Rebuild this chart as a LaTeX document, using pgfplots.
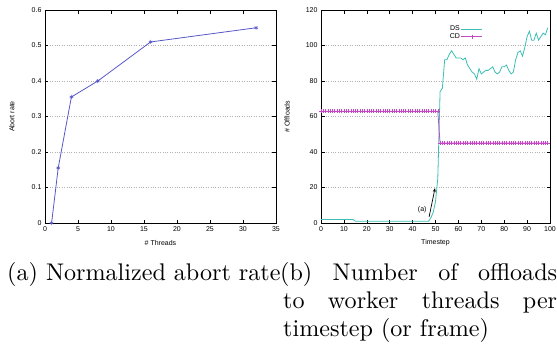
\documentclass[border=0pt]{standalone}
\usepackage{fontspec}
\setsansfont{Liberation Sans}
\newfontfamily\lmten{lmroman10-regular.otf}
\usepackage{pgfplots}
\pgfplotsset{compat=1.18}
\usetikzlibrary{arrows.meta}
\definecolor{abortblue}{RGB}{88,88,200}
\definecolor{dsteal}{RGB}{60,190,180}
\definecolor{cdmag}{RGB}{196,72,196}
\pgfplotsset{
  myaxis/.style={
    scale only axis,
    axis line style={line width=0.8pt},
    tick align=inside,
    major tick length=3.5pt,
    tick style={black, line width=0.6pt},
    ymajorgrids,
    grid style={dotted, gray!60, line width=0.5pt},
    ticklabel style={font=\sffamily\fontsize{7}{8}\selectfont},
    label style={font=\sffamily\fontsize{7}{8}\selectfont},
    /pgf/number format/assume math mode=true,
    /pgf/number format/fixed,
    xlabel style={at={(axis description cs:0.5,-0.094)}, anchor=center},
  }
}
\newcommand\capfont{\lmten\fontsize{24.1}{28}\selectfont}
\begin{document}
\begin{tikzpicture}
\path[use as bounding box] (0pt,0pt) rectangle (557pt,346pt);
% Left axis
\begin{axis}[myaxis,
  at={(45pt,123pt)}, anchor=south west,
  width=231pt, height=213pt,
  xmin=0, xmax=35, ymin=0, ymax=0.6,
  xtick={0,5,...,35}, ytick={0,0.1,0.2,0.3,0.4,0.5,0.6},
  yticklabels={0,0.1,0.2,0.3,0.4,0.5,0.6},
  xlabel={\# Threads}, ylabel={Abort rate},
  ylabel style={at={(axis description cs:-0.143,0.5)}, anchor=center},
]
\addplot[abortblue, line width=0.8pt, mark=asterisk, mark size=2pt, mark options={line width=0.6pt}]
  coordinates {(1,0) (2,0.155) (4,0.355) (8,0.4) (16,0.51) (32,0.55)};
\end{axis}
% Right axis
\begin{axis}[myaxis,
  at={(321pt,123pt)}, anchor=south west,
  width=229pt, height=213pt,
  xmin=0, xmax=100, ymin=0, ymax=120,
  xtick={0,10,...,100}, ytick={0,20,...,120},
  xlabel={Timestep}, ylabel={\# Offloads},
  ylabel style={at={(axis description cs:-0.148,0.5)}, anchor=center},
  legend plot pos=right,
  legend cell align=right,
  legend style={draw=none, fill=none, at={(axis description cs:0.707,0.93)}, anchor=north east,
    font=\sffamily\fontsize{7}{8}\selectfont, inner sep=0pt, row sep=-1pt,
    nodes={inner sep=1pt}},
  legend image code/.code={\draw[#1, mark=none] (0pt,0pt) -- (21pt,0pt);
     \draw[#1, only marks] plot coordinates {(10.5pt,0pt)};},
]
\addplot[dsteal, line width=0.8pt] coordinates {
(0,2)(1,2)(2,2)(3,2)(4,2)(5,2)(6,2)(7,2)(8,2)(9,2)(10,2)(11,2)(12,2)(13,2)(14,2)
(15,1)(16,1)(17,1)(18,1)(19,1)(20,1)(21,1)(22,1)(23,1)(24,1)(25,1)(26,1)(27,1)(28,1)(29,1)
(30,1)(31,1)(32,1)(33,1)(34,1)(35,1)(36,1)(37,1)(38,1)(39,1)(40,1)(41,1)(42,1)(43,1)(44,1)
(45,1)(46,1)(47,1)(48,3)(49,6)(50,12)(51,25)(52,74)(53,76)(54,92)(55,92)(56,95)(57,97)
(58,95)(59,93)(60,93)(61,93)(62,92)(63,93)(64,89)(65,87)(66,85)(67,84)(68,81)(69,87)
(70,84)(71,85)(72,86)(73,86)(74,87)(75,88)(76,85)(77,84)(78,85)(79,88)(80,88)(81,89)
(82,86)(83,84)(84,85)(85,92)(86,96)(87,97)(88,94)(89,99)(90,105)(91,108)(92,103)(93,103)
(94,107)(95,103)(96,105)(97,107)(98,106)(99,110)};
\addlegendentry{DS}
\addplot[cdmag, line width=0.8pt, mark=+, mark size=2pt, mark options={line width=0.5pt}] coordinates {
(0,63)(1,63)(2,63)(3,63)(4,63)(5,63)(6,63)(7,63)(8,63)(9,63)(10,63)(11,63)(12,63)(13,63)
(14,63)(15,63)(16,63)(17,63)(18,63)(19,63)(20,63)(21,63)(22,63)(23,63)(24,63)(25,63)
(26,63)(27,63)(28,63)(29,63)(30,63)(31,63)(32,63)(33,63)(34,63)(35,63)(36,63)(37,63)
(38,63)(39,63)(40,63)(41,63)(42,63)(43,63)(44,63)(45,63)(46,63)(47,63)(48,63)(49,63)
(50,63)(51,63)(52,45)(53,45)(54,45)(55,45)(56,45)(57,45)(58,45)(59,45)(60,45)(61,45)
(62,45)(63,45)(64,45)(65,45)(66,45)(67,45)(68,45)(69,45)(70,45)(71,45)(72,45)(73,45)
(74,45)(75,45)(76,45)(77,45)(78,45)(79,45)(80,45)(81,45)(82,45)(83,45)(84,45)(85,45)
(86,45)(87,45)(88,45)(89,45)(90,45)(91,45)(92,45)(93,45)(94,45)(95,45)(96,45)(97,45)
(98,45)(99,45)};
\addlegendentry{CD}
\draw[-{Stealth[length=4pt,width=3pt]}, line width=0.7pt] (axis cs:47.2,3.4) -- (axis cs:49.8,19.7);
\node[font=\sffamily\fontsize{7}{8}\selectfont] at (axis cs:44.2,7.5) {(a)};
\end{axis}
% Captions
\node[anchor=base west, inner sep=0pt, font=\capfont] at (7pt,66pt) {(a) Normalized abort rate};
\node[anchor=base west, inner sep=0pt, font=\capfont] at (280pt,66pt) {\makebox[277pt][s]{(b) Number of offloads}};
\node[anchor=base west, inner sep=0pt, font=\capfont] at (283pt,38pt) {\makebox[274pt][s]{to worker threads per}};
\node[anchor=base west, inner sep=0pt, font=\capfont] at (283pt,10pt) {timestep (or frame)};
\end{tikzpicture}
\end{document}
